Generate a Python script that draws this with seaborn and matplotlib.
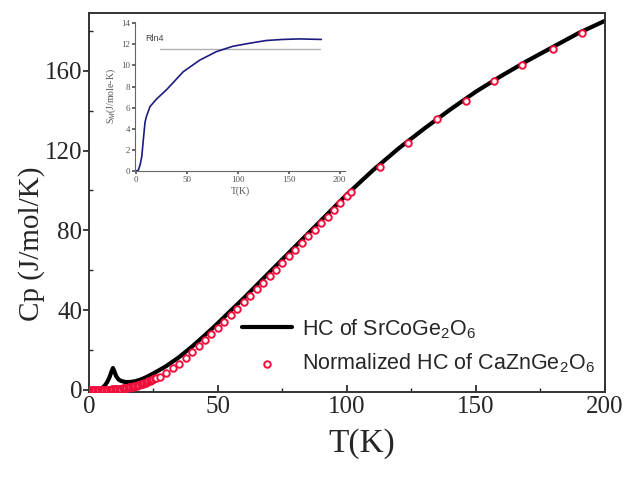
import numpy as np
import pandas as pd
import matplotlib
matplotlib.use('Agg')
import matplotlib.pyplot as plt
import seaborn as sns

# HC of SrCoGe2O6 (black line)
sr_T = [0, 2, 4, 5, 6, 7, 8, 8.8, 9.3, 9.8, 10.5, 11.5, 12.5, 14, 16, 18, 20, 22, 25, 28,
        30, 35, 40, 45, 50, 55, 60, 65, 70, 75, 80, 85, 90, 95, 100, 110, 120, 130, 140,
        150, 160, 170, 180, 190, 200]
sr_Cp = [0, 0.1, 0.4, 0.9, 2.0, 3.8, 6.5, 9.5, 11.0, 9.5, 7.0, 5.2, 4.5, 4.0, 4.0, 4.4, 5.2, 6.3, 8.3, 10.5,
         12.0, 16.5, 21.8, 27.5, 33.5, 39.8, 46.0, 52.5, 59.0, 65.5, 72.0, 78.5, 85.0, 91.5, 98.0, 110.0, 121.0, 131.0, 140.5,
         149.5, 157.5, 165.0, 172.0, 179.0, 185.0]

# normalized HC of CaZnGe2O6 (open circles), dense below 26 K
ca_T = [0, 0.5, 1, 1.5, 2, 2.5, 3, 3.5, 4, 4.5, 5, 5.5, 6, 6.5, 7, 7.5, 8, 8.5, 9, 9.5,
        10, 10.5, 11, 11.5, 12, 12.5, 13, 13.5, 14, 14.5, 15, 15.5, 16, 16.5, 17, 17.5,
        18, 18.5, 19, 19.5, 20, 20.5, 21, 21.5, 22, 22.5, 23, 23.5, 24, 24.5, 25, 25.5, 26,
        27.5, 30, 32.5, 35, 37.5, 40, 42.5, 45, 47.5, 50, 52.5, 55, 57.5, 60, 62.5, 65, 67.5, 70, 72.5, 75,
        77.5, 80, 82.5, 85, 87.5, 90, 92.5, 95, 97.5, 100, 101.5,
        112.8, 123.6, 135, 146, 157, 168, 180, 191]
ca_Cp = [0, 0, 0, 0, 0, 0.01, 0.01, 0.02, 0.02, 0.03, 0.04, 0.06, 0.08, 0.1, 0.12, 0.15, 0.18, 0.21, 0.26, 0.3,
         0.35, 0.41, 0.47, 0.53, 0.6, 0.68, 0.77, 0.86, 0.96, 1.07, 1.18, 1.3, 1.43, 1.57, 1.72, 1.88,
         2.04, 2.22, 2.4, 2.6, 2.8, 3.02, 3.24, 3.48, 3.73, 3.99, 4.26, 4.55, 4.84, 5.15, 5.47, 5.8, 6.1,
         6.5, 8.6, 10.8, 13.2, 16.0, 18.8, 21.8, 25.0, 28.0, 31.0, 34.2, 37.4, 40.6, 43.9, 47.1, 50.4, 53.7, 57.0,
         60.3, 63.7, 67.0, 70.4, 73.7, 77.0, 80.3, 83.6, 86.9, 90.3, 93.6, 97.0, 99.0,
         112, 124, 135.7, 145, 154.8, 163, 171, 179]

# inset: magnetic entropy
s_T = [0, 2.3, 4, 5.6, 7, 8.8, 10, 13.7, 20, 30, 46.4, 62.7, 79, 95, 112, 128, 144, 160, 182]
s_S = [0, 0.1, 0.6, 1.35, 2.8, 4.6, 5.1, 6.1, 6.8, 7.7, 9.4, 10.5, 11.3, 11.8, 12.1, 12.35, 12.45, 12.5, 12.45]
rln4 = 11.53

sns.set_theme(style="ticks")
plt.rcParams['font.family'] = ['Liberation Serif', 'DejaVu Serif']
plt.rcParams['mathtext.fontset'] = 'custom'
plt.rcParams['mathtext.rm'] = 'Liberation Sans'
plt.rcParams['mathtext.it'] = 'Liberation Sans:italic'

sr = pd.DataFrame({'T': sr_T, 'Cp': sr_Cp})
ca = pd.DataFrame({'T': ca_T, 'Cp': ca_Cp})
ent = pd.DataFrame({'T': s_T, 'S': s_S})

fig = plt.figure(figsize=(6.28, 4.78), dpi=100)
ax = fig.add_axes([0.1417, 0.180, 0.8213, 0.793])

sns.lineplot(data=sr, x='T', y='Cp', ax=ax, color='black', lw=3, label='HC of SrCoGe$_2$O$_6$', zorder=2)
sns.scatterplot(data=ca, x='T', y='Cp', ax=ax, marker='o', s=22, facecolor='white',
                edgecolor='#f0103c', linewidth=1.4, label='Normalized HC of CaZnGe$_2$O$_6$', zorder=3)

ax.set_xlim(0, 200)
ax.set_ylim(-1, 189)
ax.set_xticks([0, 50, 100, 150, 200])
ax.set_xticks([25, 75, 125, 175], minor=True)
ax.set_yticks([0, 40, 80, 120, 160])
ax.set_yticks([20, 60, 100, 140, 180], minor=True)
ax.tick_params(axis='x', direction='in', length=5, labelsize=18, pad=3)
ax.tick_params(axis='x', which='minor', direction='in', length=3)
ax.tick_params(axis='y', direction='out', length=4, labelsize=18, pad=1)
ax.tick_params(axis='y', which='minor', direction='in', length=3)
for sp in ax.spines.values():
    sp.set_visible(True)
    sp.set_color('#333333')
    sp.set_linewidth(1.4)
ax.set_xlabel('T(K)', fontsize=24)
ax.set_ylabel('Cp (J/mol/K)', fontsize=21)
ax.xaxis.set_label_coords(0.529, -0.095)
ax.yaxis.set_label_coords(-0.085, 0.39)

leg = ax.legend(loc='lower right', bbox_to_anchor=(1.005, 0.011), frameon=False,
                prop={'family': 'Liberation Sans', 'size': 15.5}, handlelength=2.3,
                handletextpad=0.45, labelspacing=0.5, borderaxespad=0.2)

# inset
ins = fig.add_axes([0.215, 0.642, 0.334, 0.312])
ins.patch.set_alpha(0)
ins.axhline(rln4, xmin=0.12, xmax=0.88, color='#b0b0b0', lw=1)
sns.lineplot(data=ent, x='T', y='S', ax=ins, color='#1c1c80', lw=1.2)
ins.text(9, 12.3, 'Rln4', fontsize=6.5, color='#444444', family='Liberation Sans')
ins.set_xlim(-1, 205)
ins.set_ylim(0, 14.1)
ins.set_xticks([0, 50, 100, 150, 200])
ins.set_yticks([0, 2, 4, 6, 8, 10, 12, 14])
ins.tick_params(labelsize=6.5, length=2, colors='#555555', pad=1.5)
ins.spines['top'].set_visible(False)
ins.spines['right'].set_visible(False)
for s in ['left', 'bottom']:
    ins.spines[s].set_color('#666666')
    ins.spines[s].set_linewidth(0.8)
ins.set_xlabel('T(K)', fontsize=7, color='#555555', labelpad=2)
ins.set_ylabel(r'S$_M$(J/mole-K)', fontsize=7, color='#555555', labelpad=2)

fig.savefig('out.png', dpi=100)
